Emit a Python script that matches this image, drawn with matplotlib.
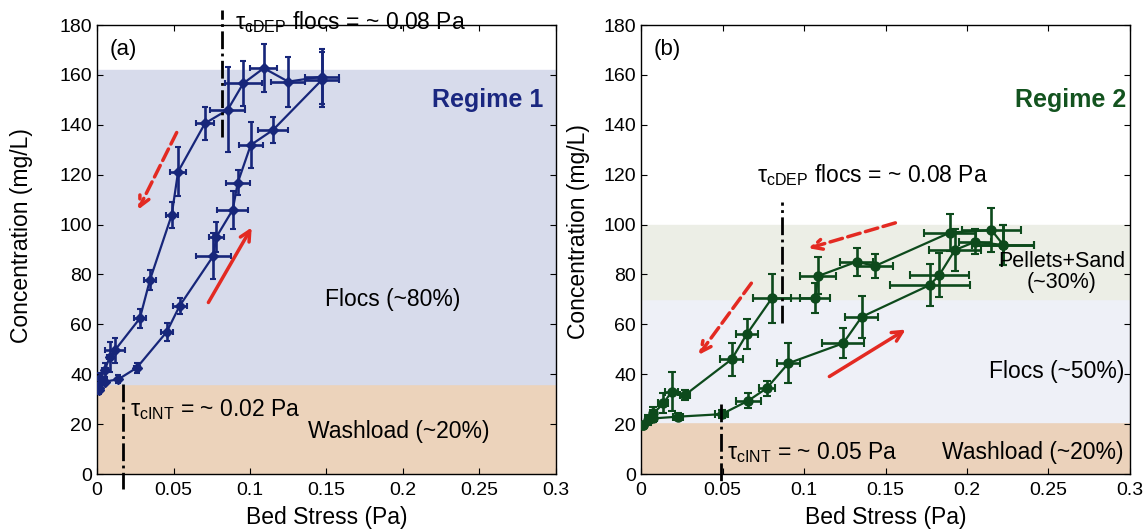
import matplotlib.pyplot as plt
import numpy as np

plt.rcParams['font.family'] = ['Liberation Sans', 'DejaVu Sans']
plt.rcParams['mathtext.fontset'] = 'custom'
plt.rcParams['mathtext.rm'] = 'Liberation Sans'

# panel (a) - regime 1, increasing stress branch
a_inc_x = [0.0015, 0.005, 0.014, 0.026, 0.0456, 0.054, 0.076, 0.078, 0.0887, 0.092, 0.1005, 0.115, 0.147]
a_inc_c = [33.7, 37.0, 38.0, 42.6, 57.0, 67.4, 87.4, 95.0, 105.9, 116.8, 131.9, 137.9, 158.0]
a_inc_xe = [0.001, 0.001, 0.001, 0.002, 0.004, 0.0045, 0.0115, 0.005, 0.01, 0.008, 0.008, 0.01, 0.011]
a_inc_ce = [1.5, 1.5, 1.5, 2.0, 3.7, 3.3, 9.4, 6.0, 7.7, 5.0, 9.4, 5.3, 11.0]

# panel (a) - decreasing stress branch
a_dec_x = [0.147, 0.125, 0.109, 0.0956, 0.0854, 0.0706, 0.053, 0.0488, 0.0346, 0.028, 0.0118, 0.0085, 0.005, 0.002, 0.001]
a_dec_c = [159.3, 157.3, 162.7, 156.6, 146.0, 140.6, 121.2, 103.8, 77.8, 62.4, 49.7, 47.0, 41.7, 38.5, 34.5]
a_dec_xe = [0.011, 0.011, 0.0087, 0.012, 0.0115, 0.006, 0.005, 0.004, 0.004, 0.004, 0.0065, 0.002, 0.002, 0.001, 0.001]
a_dec_ce = [11.0, 10.0, 9.7, 9.0, 17.0, 6.5, 9.7, 5.3, 4.0, 3.7, 5.0, 6.0, 3.0, 2.0, 1.5]

# panel (b) - regime 2, increasing stress branch
b_inc_x = [0.001, 0.0076, 0.0229, 0.0495, 0.0658, 0.0771, 0.0904, 0.124, 0.1354, 0.1773, 0.183, 0.1926, 0.205, 0.2223]
b_inc_c = [19.6, 22.3, 23.0, 24.0, 29.4, 34.4, 44.4, 52.4, 63.0, 75.8, 79.8, 89.8, 93.1, 91.8]
b_inc_xe = [0.001, 0.002, 0.003, 0.004, 0.0077, 0.005, 0.007, 0.013, 0.01, 0.0245, 0.018, 0.016, 0.01, 0.019]
b_inc_ce = [1.0, 1.5, 1.5, 1.5, 3.0, 3.0, 8.0, 6.0, 8.4, 8.4, 8.7, 8.4, 5.0, 8.0]

# panel (b) - decreasing stress branch
b_dec_x = [0.2223, 0.215, 0.1896, 0.1436, 0.1323, 0.1088, 0.1067, 0.0802, 0.0648, 0.0556, 0.027, 0.0188, 0.0137, 0.0076, 0.0045, 0.001]
b_dec_c = [91.8, 97.8, 96.8, 83.4, 85.1, 79.4, 70.4, 70.4, 56.0, 46.0, 31.7, 33.0, 28.3, 24.3, 21.7, 19.6]
b_dec_xe = [0.019, 0.018, 0.016, 0.011, 0.01, 0.011, 0.009, 0.0118, 0.0067, 0.007, 0.003, 0.004, 0.003, 0.002, 0.002, 0.001]
b_dec_ce = [8.0, 8.7, 7.4, 5.0, 5.7, 7.4, 6.0, 9.7, 6.0, 6.7, 2.0, 7.7, 4.0, 2.5, 2.0, 1.0]

blue = '#17267a'
green = '#0d4a1c'
red = '#e32a22'

fig = plt.figure(figsize=(11.48, 5.31), dpi=100)
ax1 = fig.add_axes([0.0845, 0.1073, 0.3998, 0.8456])
ax2 = fig.add_axes([0.5584, 0.1073, 0.4259, 0.8456])

for ax in (ax1, ax2):
    ax.set_xlim(0, 0.3)
    ax.set_ylim(0, 180)
    ax.set_xticks([0, 0.05, 0.1, 0.15, 0.2, 0.25, 0.3], ['0', '0.05', '0.1', '0.15', '0.2', '0.25', '0.3'])
    ax.set_yticks(np.arange(0, 181, 20))
    ax.tick_params(direction='in', labelsize=14, top=True, right=True, length=4, width=0.8)
    ax.tick_params(axis='x', pad=6)
    ax.set_xlabel('Bed Stress (Pa)', fontsize=16.5, labelpad=5)
    ax.set_ylabel('Concentration (mg/L)', fontsize=16.5)
    for s in ax.spines.values():
        s.set_linewidth(1.0)

ax1.yaxis.set_label_coords(-0.139, 0.53)
ax2.yaxis.set_label_coords(-0.104, 0.54)

# background regimes
ax1.axhspan(0, 36, color='#ecd3bb', zorder=0)
ax1.axhspan(36, 162, color='#d7dbeb', zorder=0)
ax2.axhspan(0, 21, color='#ebd2bb', zorder=0)
ax2.axhspan(21, 70, color='#eef0f7', zorder=0)
ax2.axhspan(70, 100, color='#eceee6', zorder=0)

# panel a data
for xs, cs, xe, ce in [(a_inc_x, a_inc_c, a_inc_xe, a_inc_ce), (a_dec_x, a_dec_c, a_dec_xe, a_dec_ce)]:
    ax1.errorbar(xs, cs, xerr=xe, yerr=ce, color=blue, marker='D', ms=5.5, lw=1.6,
                 elinewidth=1.9, capsize=2.5, capthick=1.5, zorder=3)

# panel b data
for xs, cs, xe, ce in [(b_inc_x, b_inc_c, b_inc_xe, b_inc_ce), (b_dec_x, b_dec_c, b_dec_xe, b_dec_ce)]:
    ax2.errorbar(xs, cs, xerr=xe, yerr=ce, color=green, marker='o', ms=6.5, lw=1.6,
                 elinewidth=1.9, capsize=3, capthick=1.5, zorder=3)

# threshold lines
ax1.plot([0.0815, 0.0815], [135, 186], ls='-.', color='black', lw=2, clip_on=False, zorder=4)
ax1.plot([0.017, 0.017], [36, -6], ls='-.', color='black', lw=2, clip_on=False, zorder=4)
ax2.plot([0.0863, 0.0863], [60.5, 109], ls='-.', color='black', lw=2, zorder=4)
ax2.plot([0.049, 0.049], [28, -3], ls='-.', color='black', lw=2, clip_on=False, zorder=4)

ax1.text(0.09, 181, r'τ$_{\mathrm{cDEP}}$ flocs = ~ 0.08 Pa', fontsize=16.5, va='center', clip_on=False)
ax1.text(0.0216, 25.7, r'τ$_{\mathrm{cINT}}$ = ~ 0.02 Pa', fontsize=16.5, va='center')
ax2.text(0.071, 120, r'τ$_{\mathrm{cDEP}}$ flocs = ~ 0.08 Pa', fontsize=16.5, va='center')
ax2.text(0.053, 8.5, r'τ$_{\mathrm{cINT}}$ = ~ 0.05 Pa', fontsize=16.5, va='center')

# arrows
arr_dash = dict(arrowstyle='->', color=red, lw=2.5, ls='--', mutation_scale=18)
arr_solid = dict(arrowstyle='->', color=red, lw=2.5, mutation_scale=18)
ax1.annotate('', xy=(0.0261, 105), xytext=(0.0529, 137.9), arrowprops=arr_dash)
ax1.annotate('', xy=(0.102, 99.8), xytext=(0.0719, 67.8), arrowprops=arr_solid)
ax2.annotate('', xy=(0.1012, 90.2), xytext=(0.1577, 101), arrowprops=arr_dash)
ax2.annotate('', xy=(0.0344, 46.9), xytext=(0.0687, 77.4), arrowprops=arr_dash)
ax2.annotate('', xy=(0.1638, 58.5), xytext=(0.1141, 38.5), arrowprops=arr_solid)

# labels
ax1.text(0.008, 170, '(a)', fontsize=16, va='center')
ax2.text(0.008, 170, '(b)', fontsize=16, va='center')
ax1.text(0.292, 150, 'Regime 1', fontsize=18, fontweight='bold', color='#1a2780', ha='right', va='center')
ax2.text(0.298, 150, 'Regime 2', fontsize=18, fontweight='bold', color='#13531f', ha='right', va='center')
ax1.text(0.193, 70, 'Flocs (~80%)', fontsize=16.5, ha='center', va='center')
ax1.text(0.197, 17, 'Washload (~20%)', fontsize=16.5, ha='center', va='center')
ax2.text(0.258, 81, 'Pellets+Sand\n(~30%)', fontsize=15.5, ha='center', va='center', linespacing=1.05)
ax2.text(0.255, 41, 'Flocs (~50%)', fontsize=16.5, ha='center', va='center')
ax2.text(0.2405, 8.8, 'Washload (~20%)', fontsize=16.5, ha='center', va='center')

fig.savefig('out.png', dpi=100)
